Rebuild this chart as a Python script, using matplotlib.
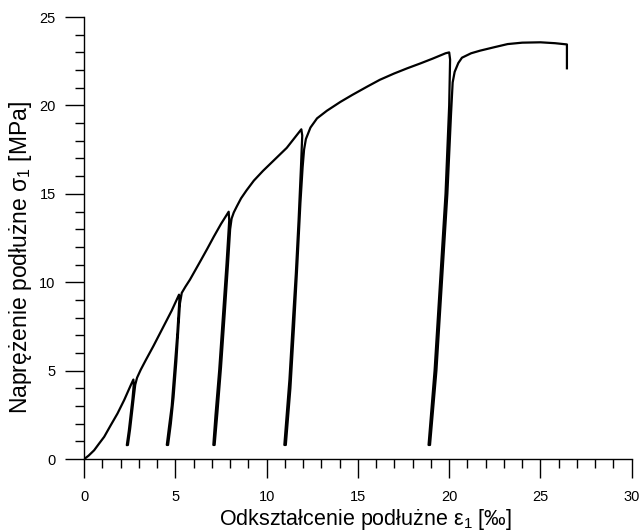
import matplotlib
matplotlib.use("Agg")
import matplotlib.pyplot as plt
from matplotlib.ticker import MultipleLocator

plt.rcParams['font.family'] = ['Liberation Sans', 'DejaVu Sans']
plt.rcParams['mathtext.fontset'] = 'custom'
plt.rcParams['mathtext.rm'] = 'Liberation Sans'
plt.rcParams['mathtext.it'] = 'Liberation Sans:italic'

# strain [permil]
strain = [
    0, 0.25, 0.55, 0.8, 1.1, 1.45, 1.83, 2.2, 2.56, 2.7,
    2.72, 2.65, 2.55, 2.45, 2.34,
    2.40, 2.52, 2.62, 2.72, 2.8, 2.9, 3.1, 3.38,
    3.8, 4.3, 4.8, 5.2,
    5.22, 5.1, 4.95, 4.8, 4.65, 4.53,
    4.6, 4.75, 4.9, 5.05, 5.17, 5.25, 5.35, 5.55, 5.8,
    6.1, 6.4, 6.75, 7.1, 7.5, 7.92,
    7.95, 7.8, 7.6, 7.4, 7.2, 7.08,
    7.15, 7.3, 7.5, 7.7, 7.88, 8.0, 8.08, 8.2, 8.37, 8.6, 8.9, 9.3, 9.8,
    10.4, 11.1, 11.9,
    11.95, 11.88, 11.75, 11.6, 11.45, 11.25, 10.97,
    11.05, 11.3, 11.5, 11.68, 11.85, 11.97, 12.05, 12.15, 12.4, 12.76,
    13.3, 14.04, 14.7, 15.5, 16.2, 16.97, 17.7, 18.43, 19.1, 19.8, 20.0,
    20.05, 20.0, 19.8, 19.5, 19.2, 18.87,
    18.95, 19.3, 19.6, 19.9, 20.1, 20.19, 20.3, 20.5, 20.7, 21.2, 21.7,
    22.5, 23.2, 24.0, 25.0, 25.8, 26.45, 26.45,
]
# stress [MPa]
stress = [
    0, 0.2, 0.5, 0.85, 1.26, 1.9, 2.58, 3.35, 4.19, 4.5,
    4.2, 3.4, 2.5, 1.6, 0.79,
    0.8, 1.7, 2.6, 3.5, 4.2, 4.6, 5.05, 5.6,
    6.4, 7.4, 8.4, 9.3,
    9.0, 7.0, 5.0, 3.0, 1.8, 0.8,
    0.8, 2.0, 3.5, 5.5, 7.5, 8.8, 9.4, 9.75, 10.15,
    10.7, 11.25, 11.9, 12.57, 13.3, 13.99,
    13.5, 11.0, 8.0, 5.0, 2.5, 0.8,
    0.8, 2.6, 5.2, 8.2, 11.0, 13.0, 13.6, 13.95, 14.3, 14.75, 15.2, 15.75, 16.3,
    16.9, 17.6, 18.65,
    18.3, 16.5, 13.5, 10.5, 8.0, 4.5, 0.8,
    0.8, 4.0, 7.5, 11.0, 14.5, 16.5, 17.5, 18.1, 18.75, 19.27,
    19.7, 20.2, 20.6, 21.06, 21.45, 21.8, 22.1, 22.38, 22.65, 22.95, 23.0,
    22.6, 20.0, 15.0, 10.0, 5.0, 0.8,
    0.8, 5.0, 10.0, 15.0, 19.5, 21.3, 21.9, 22.4, 22.7, 22.95, 23.1,
    23.3, 23.47, 23.55, 23.57, 23.52, 23.45, 22.1,
]

fig = plt.figure(figsize=(6.42, 5.32), dpi=100)
ax = fig.add_axes([0.131, 0.137, 0.853, 0.831])
ax.plot(strain, stress, color='black', lw=1.6, solid_joinstyle='round')

ax.set_xlim(0, 30)
ax.set_ylim(0, 25)
ax.spines['top'].set_visible(False)
ax.spines['right'].set_visible(False)
ax.spines['left'].set_linewidth(1.0)
ax.spines['bottom'].set_linewidth(1.0)
ax.xaxis.set_major_locator(MultipleLocator(5))
ax.xaxis.set_minor_locator(MultipleLocator(1))
ax.yaxis.set_major_locator(MultipleLocator(5))
ax.yaxis.set_minor_locator(MultipleLocator(1))
ax.tick_params(axis='x', which='major', direction='out', length=13.5, width=1.0, pad=9, labelsize=10.5)
ax.tick_params(axis='x', which='minor', direction='out', length=6.5, width=1.0)
ax.tick_params(axis='y', which='major', direction='out', length=13.5, width=1.0, pad=7, labelsize=10.5)
ax.tick_params(axis='y', which='minor', direction='out', length=6.5, width=1.0)

ax.set_xlabel(r"Odkształcenie podłużne ε$_{\mathit{1}}$ [‰]", fontsize=15.5)
ax.set_ylabel(r"Naprężenie podłużne σ$_{\mathit{1}}$ [MPa]", fontsize=16.5)
ax.xaxis.set_label_coords(0.514, -0.108)
ax.yaxis.set_label_coords(-0.0915, 0.456)

fig.savefig("out.png", dpi=100)
